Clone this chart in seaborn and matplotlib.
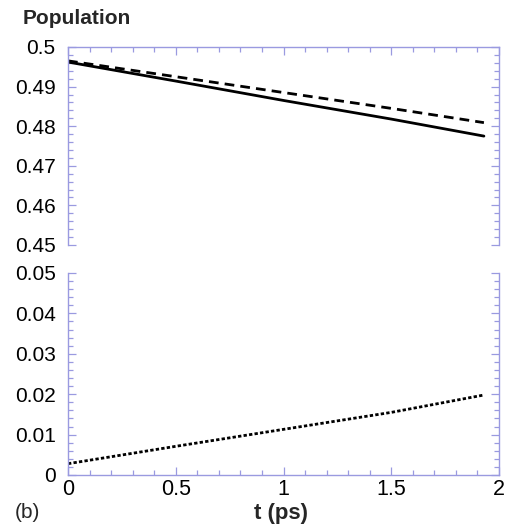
import matplotlib
matplotlib.use("Agg")
import matplotlib.pyplot as plt
import seaborn as sns
import pandas as pd
from matplotlib.ticker import MultipleLocator, FuncFormatter

# ---- data ----
t_ps = [0.0, 0.5, 1.0, 1.5, 1.93]
pop_solid = [0.4962, 0.4914, 0.4865, 0.4818, 0.4775]
pop_dashed = [0.4965, 0.4925, 0.4885, 0.4845, 0.4809]
pop_dotted = [0.0028, 0.0071, 0.0113, 0.0155, 0.0198]

x_ticks = [0, 0.5, 1, 1.5, 2]
top_yticks = [0.45, 0.46, 0.47, 0.48, 0.49, 0.5]
bot_yticks = [0, 0.01, 0.02, 0.03, 0.04, 0.05]

sns.set_theme(style="white")
plt.rcParams['font.family'] = ['Liberation Sans', 'DejaVu Sans']

spine_col = '#9a9ae0'
W, H = 515, 525
fig = plt.figure(figsize=(W / 100, H / 100), dpi=100)

left = 68 / W
width = (499 - 68) / W
ax_top = fig.add_axes([left, 1 - 245 / H, width, (245 - 47) / H])
ax_bot = fig.add_axes([left, 1 - 475 / H, width, (475 - 273) / H])

df_top = pd.DataFrame({"t": t_ps, "solid": pop_solid, "dashed": pop_dashed})
df_bot = pd.DataFrame({"t": t_ps, "dotted": pop_dotted})

sns.lineplot(data=df_top, x="t", y="solid", ax=ax_top, color='black', lw=2.0)
sns.lineplot(data=df_top, x="t", y="dashed", ax=ax_top, color='black', lw=2.0,
             linestyle=(0, (3.5, 2.2)))
sns.lineplot(data=df_bot, x="t", y="dotted", ax=ax_bot, color='black', lw=2.0,
             linestyle=(0, (1.2, 0.8)))

fmt = FuncFormatter(lambda v, p: f"{v:g}")

for ax, yt in ((ax_top, top_yticks), (ax_bot, bot_yticks)):
    ax.set_xlim(0, 2)
    ax.set_ylim(yt[0], yt[-1])
    ax.set_yticks(yt)
    ax.yaxis.set_major_formatter(fmt)
    ax.yaxis.set_minor_locator(MultipleLocator(0.002))
    ax.set_xticks(x_ticks)
    ax.xaxis.set_minor_locator(MultipleLocator(0.1))
    ax.xaxis.set_major_formatter(fmt)
    ax.set_xlabel("")
    ax.set_ylabel("")
    for s in ax.spines.values():
        s.set_color(spine_col)
        s.set_linewidth(1.0)
    ax.tick_params(which='both', direction='in', color=spine_col, width=0.9,
                   labelcolor='black', left=True, right=True)
    ax.tick_params(axis='y', labelsize=15)
    ax.tick_params(axis='x', labelsize=15.5)
    ax.tick_params(which='major', length=6, pad=9)
    ax.tick_params(which='minor', length=3.5)
    ax.set_facecolor('white')

ax_top.spines['bottom'].set_visible(False)
ax_top.tick_params(which='both', bottom=False, top=True, labelbottom=False)
ax_bot.spines['top'].set_visible(False)
ax_bot.tick_params(which='both', bottom=True, top=False, labelbottom=True)
ax_bot.tick_params(axis='x', which='major', pad=3)

fig.text(23 / W, 1 - 19 / H, "Population", fontsize=15, fontweight='bold',
         ha='left', va='center')
fig.text(281 / W, 1 - 514 / H, "t (ps)", fontsize=16, fontweight='bold',
         ha='center', va='center')
fig.text(15 / W, 1 - 513 / H, "(b)", fontsize=15, ha='left', va='center')

fig.savefig("out.png", dpi=100, facecolor='white')
